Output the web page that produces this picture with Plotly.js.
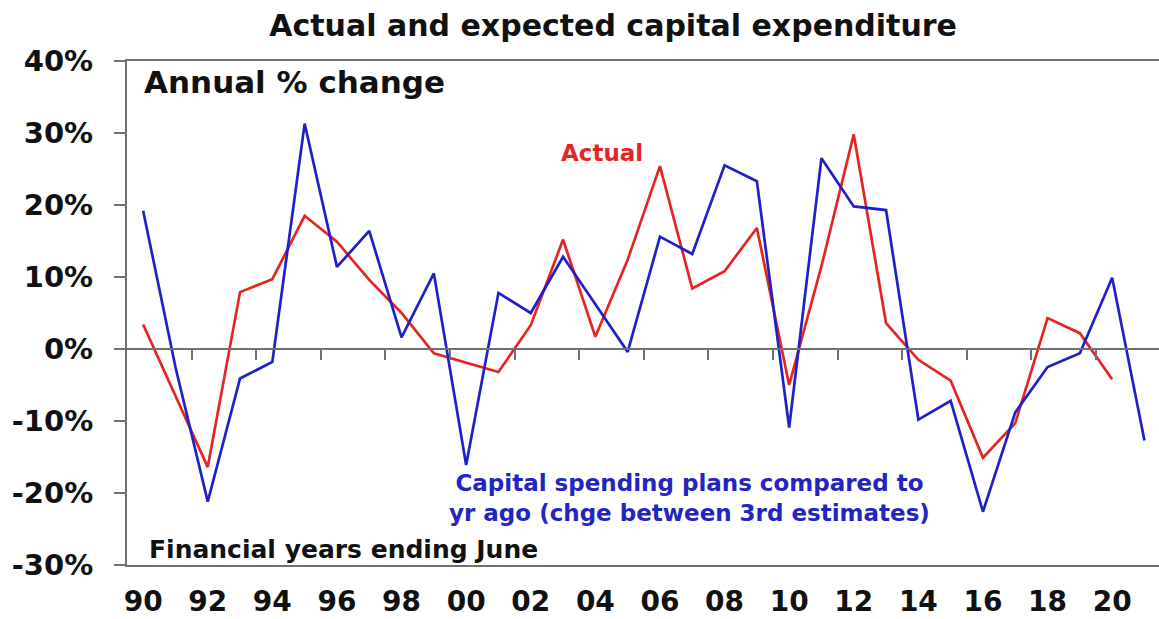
<!DOCTYPE html>
<html>
<head>
<meta charset="utf-8">
<script src="https://cdn.plot.ly/plotly-3.0.1.min.js"></script>
<style>html,body{margin:0;padding:0;background:#fff;}#chart{width:1159px;height:619px;}</style>
</head>
<body>
<div id="chart"></div>
<script>
// Financial years ending June
const years = [1990,1991,1992,1993,1994,1995,1996,1997,1998,1999,2000,2001,2002,2003,2004,2005,2006,2007,2008,2009,2010,2011,2012,2013,2014,2015,2016,2017,2018,2019,2020,2021];
// Actual capex, annual % change (1990-2020)
const actual = [3.4,-6.5,-16.4,7.9,9.7,18.5,14.9,9.6,5.0,-0.6,-1.9,-3.2,3.3,15.2,1.7,12.4,25.4,8.4,10.8,16.8,-5.0,11.5,29.8,3.6,-1.5,-4.4,-15.1,-10.3,4.3,2.2,-4.2];
// Capital spending plans vs yr ago (chge between 3rd estimates) (1990-2021)
const plans = [19.2,-2.5,-21.2,-4.1,-1.8,31.3,11.4,16.4,1.6,10.5,-16.1,7.8,5.0,12.8,6.2,-0.4,15.6,13.2,25.5,23.3,-10.9,26.5,19.8,19.3,-9.8,-7.2,-22.6,-8.8,-2.5,-0.6,9.9,-12.7];
const xTickVals = [1990,1992,1994,1996,1998,2000,2002,2004,2006,2008,2010,2012,2014,2016,2018,2020];
const xTickText = ['90','92','94','96','98','00','02','04','06','08','10','12','14','16','18','20'];
const zeroTickVals = [1991.5,1993.5,1995.5,1997.5,1999.5,2001.5,2003.5,2005.5,2007.5,2009.5,2011.5,2013.5,2015.5,2017.5,2019.5];
const yTickVals = [-30,-20,-10,0,10,20,30,40];
const yTickText = ['-30%','-20%','-10%','0%','10%','20%','30%','40%'];

const F = 'DejaVu Sans, Arial, sans-serif';
const axisGray = '#707070';
const xr = [1989.5, 2021.45];

const traces = [
  {x: years.slice(0, actual.length), y: actual, type: 'scatter', mode: 'lines',
   line: {color: '#E52521', width: 2.7}, hoverinfo: 'skip', showlegend: false},
  {x: years, y: plans, type: 'scatter', mode: 'lines',
   line: {color: '#2020C8', width: 2.7}, hoverinfo: 'skip', showlegend: false},
  {x: [years[0]], y: [null], xaxis: 'x2', yaxis: 'y', type: 'scatter', mode: 'lines',
   hoverinfo: 'skip', showlegend: false}
];

const layout = {
  width: 1159, height: 619,
  margin: {l: 127, r: 0, t: 61, b: 54},
  paper_bgcolor: '#fff', plot_bgcolor: '#fff',
  title: {text: '<b>Actual and expected capital expenditure</b>', x: 0.529, xanchor: 'center',
          y: 0.958, yanchor: 'middle', yref: 'container',
          font: {family: F, size: 30, color: '#111'}},
  xaxis: {range: xr, tickmode: 'array', tickvals: xTickVals, ticktext: xTickText,
          ticks: '', showgrid: false, zeroline: false,
          showline: true, linecolor: axisGray, linewidth: 2, mirror: true,
          ticklabelstandoff: 10,
          tickfont: {family: F, size: 28, color: '#111', weight: 'bold'}},
  xaxis2: {range: xr, overlaying: 'x', anchor: 'free', position: 3/7, side: 'bottom',
           tickmode: 'array', tickvals: zeroTickVals, showticklabels: false,
           ticks: 'outside', ticklen: 10, tickwidth: 2, tickcolor: axisGray,
           showline: true, linecolor: axisGray, linewidth: 2, showgrid: false, zeroline: false},
  yaxis: {range: [-30, 40], tickmode: 'array', tickvals: yTickVals, ticktext: yTickText,
          ticks: 'outside', ticklen: 11, tickwidth: 2, tickcolor: axisGray,
          showgrid: false, zeroline: false,
          showline: true, linecolor: axisGray, linewidth: 2, mirror: false,
          ticklabelstandoff: 15,
          tickfont: {family: F, size: 29, color: '#111', weight: 'bold'}},
  annotations: [
    {text: '<b>Annual % change</b>', xref: 'paper', yref: 'paper', x: 0.0142, y: 0.958,
     xanchor: 'left', yanchor: 'middle', showarrow: false,
     font: {family: F, size: 31, color: '#111'}},
    {text: '<b>Actual</b>', xref: 'paper', yref: 'paper', x: 0.46, y: 0.8175,
     xanchor: 'center', yanchor: 'middle', showarrow: false,
     font: {family: F, size: 23, color: '#E52521'}},
    {text: '<b>Capital spending plans compared to<br>yr ago (chge between 3rd estimates)</b>',
     xref: 'paper', yref: 'paper', x: 0.5446, y: 0.132,
     xanchor: 'center', yanchor: 'middle', showarrow: false, align: 'center',
     font: {family: F, size: 23, color: '#2424BE'}},
    {text: '<b>Financial years ending June</b>', xref: 'paper', yref: 'paper', x: 0.019, y: 0.03,
     xanchor: 'left', yanchor: 'middle', showarrow: false,
     font: {family: F, size: 25, color: '#111'}}
  ]
};

Plotly.newPlot('chart', traces, layout, {displayModeBar: false, staticPlot: true});
</script>
</body>
</html>
